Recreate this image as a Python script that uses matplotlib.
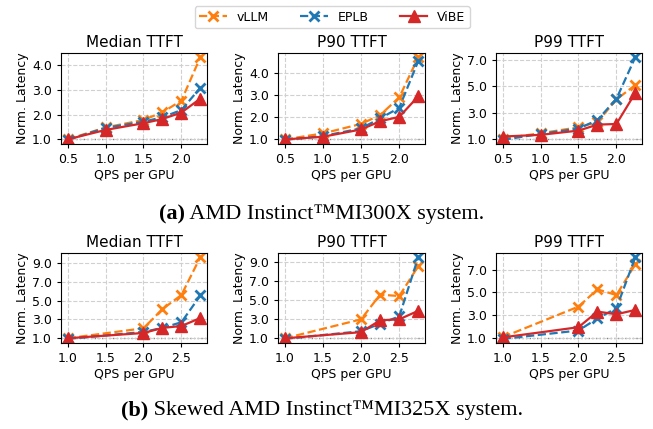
import numpy as np
import matplotlib
matplotlib.use("Agg")
import matplotlib.pyplot as plt

# x values (QPS per GPU)
qps_a = [0.5, 1.0, 1.5, 1.75, 2.0, 2.25]
qps_b = [1.0, 2.0, 2.25, 2.5, 2.75]

titles = ["Median TTFT", "P90 TTFT", "P99 TTFT"]

# (a) MI300X
vllm_a = [[1.0, 1.48, 1.78, 2.09, 2.56, 4.31],
          [1.0, 1.27, 1.70, 2.10, 2.90, 4.72],
          [1.05, 1.45, 1.90, 2.30, 4.00, 5.10]]
eplb_a = [[0.98, 1.46, 1.71, 1.89, 2.18, 3.08],
          [0.98, 1.15, 1.50, 1.95, 2.43, 4.55],
          [0.95, 1.40, 1.80, 2.45, 4.05, 7.20]]
vibe_a = [[1.0, 1.38, 1.65, 1.82, 2.08, 2.64],
          [1.0, 1.12, 1.45, 1.82, 2.02, 2.95],
          [1.20, 1.33, 1.65, 2.10, 2.15, 4.50]]

# (b) skewed MI325X
vllm_b = [[1.0, 2.06, 4.10, 5.60, 9.63],
          [1.0, 3.00, 5.60, 5.45, 8.60],
          [1.05, 3.74, 5.26, 4.76, 7.47]]
eplb_b = [[0.93, 1.67, 2.10, 2.70, 5.55],
          [0.94, 1.75, 2.55, 3.30, 9.55],
          [0.90, 1.64, 2.70, 3.60, 8.10]]
vibe_b = [[1.0, 1.56, 2.10, 2.30, 3.15],
          [1.0, 1.65, 2.90, 3.00, 3.90],
          [1.03, 1.93, 3.30, 3.07, 3.45]]

yticks_a = [[1, 2, 3, 4], [1, 2, 3, 4], [1, 3, 5, 7]]
yticks_b = [[1, 3, 5, 7, 9], [1, 3, 5, 7, 9], [1, 3, 5, 7]]
xticks_a = [0.5, 1.0, 1.5, 2.0]
xticks_b = [1.0, 1.5, 2.0, 2.5]

W, H = 653, 429
fig = plt.figure(figsize=(W / 100, H / 100), dpi=100)

lefts = [61, 278, 496]
widths = [146, 147, 146]
rows = [(53, 144), (253, 343)]


def panel(rect, x, v, e, b, title, yt, xt):
    l, t, w, bt = rect
    ax = fig.add_axes([l / W, 1 - bt / H, w / W, (bt - t) / H])
    ax.plot(x, v, "--", color="tab:orange", marker="x", ms=7, mew=2, lw=1.6, label="vLLM")
    ax.plot(x, e, "--", color="tab:blue", marker="x", ms=7, mew=2, lw=1.6, label="EPLB")
    ax.plot(x, b, "-", color="tab:red", marker="^", ms=8, lw=1.6, label="ViBE")
    ax.axhline(1.0, color="gray", ls=":", lw=1, zorder=0)
    ax.grid(True, ls="--", color="#d0d0d0", lw=0.8)
    ax.set_axisbelow(True)
    ax.set_yticks(yt)
    ax.set_yticklabels(["%.1f" % y for y in yt])
    ax.set_xticks(xt)
    ax.set_xticklabels(["%.1f" % q for q in xt])
    ax.tick_params(labelsize=9, length=3)
    ax.set_title(title, fontsize=11, pad=4)
    ax.set_xlabel("QPS per GPU", fontsize=9, labelpad=2)
    ax.set_ylabel("Norm. Latency", fontsize=9, labelpad=2)
    return ax


axes = []
for i in range(3):
    axes.append(panel((lefts[i], rows[0][0], widths[i], rows[0][1]), qps_a,
                      vllm_a[i], eplb_a[i], vibe_a[i], titles[i], yticks_a[i], xticks_a))
for i in range(3):
    axes.append(panel((lefts[i], rows[1][0], widths[i], rows[1][1]), qps_b,
                      vllm_b[i], eplb_b[i], vibe_b[i], titles[i], yticks_b[i], xticks_b))

handles, labels = axes[0].get_legend_handles_labels()
fig.legend(handles, labels, loc="upper center", bbox_to_anchor=(0.509, 1.0), ncol=3,
           fontsize=9, frameon=True, handlelength=2.2, columnspacing=2.5,
           borderpad=0.35, fancybox=True, edgecolor="#cccccc")

# captions with bold label part
fig.canvas.draw()
r = fig.canvas.get_renderer()
for lab, rest, yc in [("(a)", " AMD Instinct\u2122MI300X system.", 214),
                      ("(b)", " Skewed AMD Instinct\u2122MI325X system.", 410)]:
    t1 = fig.text(0, 1 - yc / H, lab, fontsize=16, family="Liberation Serif",
                  weight="bold", va="center", ha="left")
    t2 = fig.text(0, 1 - yc / H, rest, fontsize=16, family="Liberation Serif",
                  va="center", ha="left")
    w1 = t1.get_window_extent(r).width
    w2 = t2.get_window_extent(r).width
    x0 = 322 - (w1 + w2) / 2
    t1.set_x(x0 / W)
    t2.set_x((x0 + w1) / W)

fig.savefig("out.png", dpi=100)
